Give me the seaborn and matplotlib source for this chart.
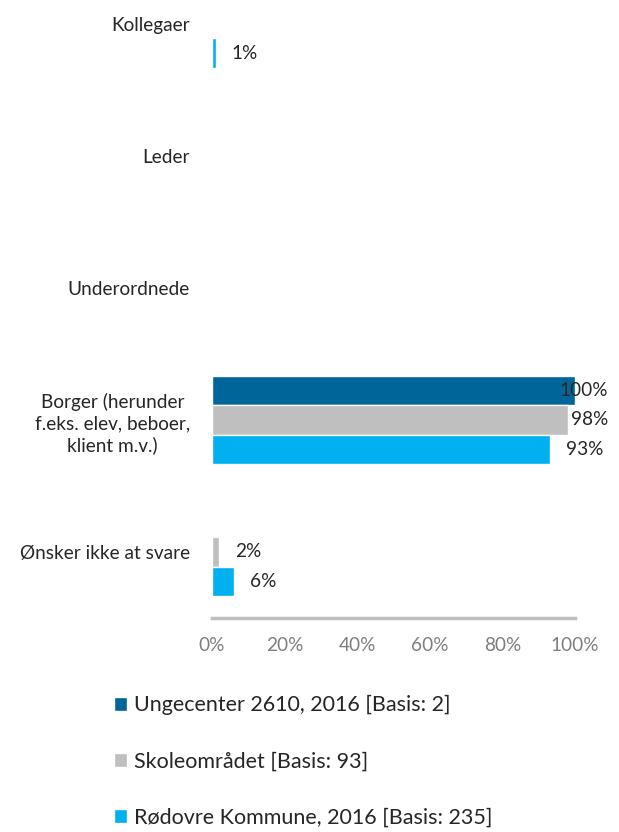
import matplotlib
matplotlib.use("Agg")
import matplotlib.pyplot as plt
import seaborn as sns
import pandas as pd

# Categories and results (percent of respondents)
categories = [
    "Kollegaer",
    "Leder",
    "Underordnede",
    "Borger (herunder\nf.eks. elev, beboer,\nklient m.v.)",
    "Ønsker ikke at svare",
]
series_names = [
    "Ungecenter 2610, 2016 [Basis: 2]",
    "Skoleområdet [Basis: 93]",
    "Rødovre Kommune, 2016 [Basis: 235]",
]
ungecenter = [0, 0, 0, 100, 0]
skoleomraadet = [0, 0, 0, 98, 2]
roedovre = [1, 0, 0, 93, 6]
tick_values = [0, 20, 40, 60, 80, 100]
tick_labels = ["0%", "20%", "40%", "60%", "80%", "100%"]
colors = ["#006699", "#BFBFBF", "#00B0F0"]

sns.set_theme(style="white")
plt.rcParams["font.family"] = ["Lato", "DejaVu Sans"]

rows = []
for name, vals in zip(series_names, [ungecenter, skoleomraadet, roedovre]):
    for cat, v in zip(categories, vals):
        rows.append({"Kategori": cat, "Serie": name, "Andel": v})
df = pd.DataFrame(rows)

W, H, DPI = 619, 832, 100
FS = 13.7
PT = 72.0 / DPI  # points per pixel
fig = plt.figure(figsize=(W / DPI, H / DPI), dpi=DPI)
ax_left, ax_right, ax_bottom = 212, 575, 618
ax = fig.add_axes([ax_left / W, (H - ax_bottom) / H,
                   (ax_right - ax_left) / W, ax_bottom / H])

sns.barplot(data=df, y="Kategori", x="Andel", hue="Serie", orient="h",
            palette=colors, width=0.667, ax=ax, legend=True,
            order=categories, hue_order=series_names, saturation=1)

ax.set_xlim(0, 100)
ax.set_ylim(4.5, -0.18)
ax.set_xlabel("")
ax.set_ylabel("")
ax.set_xticks(tick_values)
ax.set_xticklabels(tick_labels, color="#7F7F7F", fontsize=FS)
ax.tick_params(axis="x", length=0, pad=19 * PT)
ax.tick_params(axis="y", length=0, pad=22 * PT, labelsize=FS)
for lbl in ax.get_yticklabels():
    lbl.set_multialignment("center")
    lbl.set_linespacing(1.3)
    lbl.set_color("#262626")
for side in ["top", "right", "left"]:
    ax.spines[side].set_visible(False)
ax.spines["bottom"].set_color("#BFBFBF")
ax.spines["bottom"].set_linewidth(2.5)
ax.patch.set_alpha(0)

# Value labels for non-zero bars, kept inside the right margin
px_per_unit = (ax_right - ax_left) / 100.0
gap = 16 / px_per_unit
max_right_px = 608
fig.canvas.draw()
renderer = fig.canvas.get_renderer()
for cont in ax.containers:
    for bar in cont:
        v = bar.get_width()
        if v <= 0:
            continue
        yc = bar.get_y() + bar.get_height() / 2
        t = ax.text(v + gap, yc, f"{v:.0f}%", ha="left", va="center",
                    fontsize=FS, color="#262626", clip_on=False)
        bb = t.get_window_extent(renderer)
        right_px = bb.x1
        if right_px > max_right_px:
            shift = (right_px - max_right_px) / px_per_unit
            t.set_x(v + gap - shift)

# Legend below the chart
handles, labels = ax.get_legend_handles_labels()
ax.get_legend().remove()
leg = fig.legend(handles, labels, loc="upper left",
                 bbox_to_anchor=(114 / W, 1 - 695 / H),
                 frameon=False, fontsize=15.5, handlelength=0.62,
                 handleheight=0.62, handletextpad=0.32, labelspacing=1.68,
                 borderaxespad=0, borderpad=0)
for txt in leg.get_texts():
    txt.set_color("#262626")

fig.savefig("out.png", dpi=DPI)
